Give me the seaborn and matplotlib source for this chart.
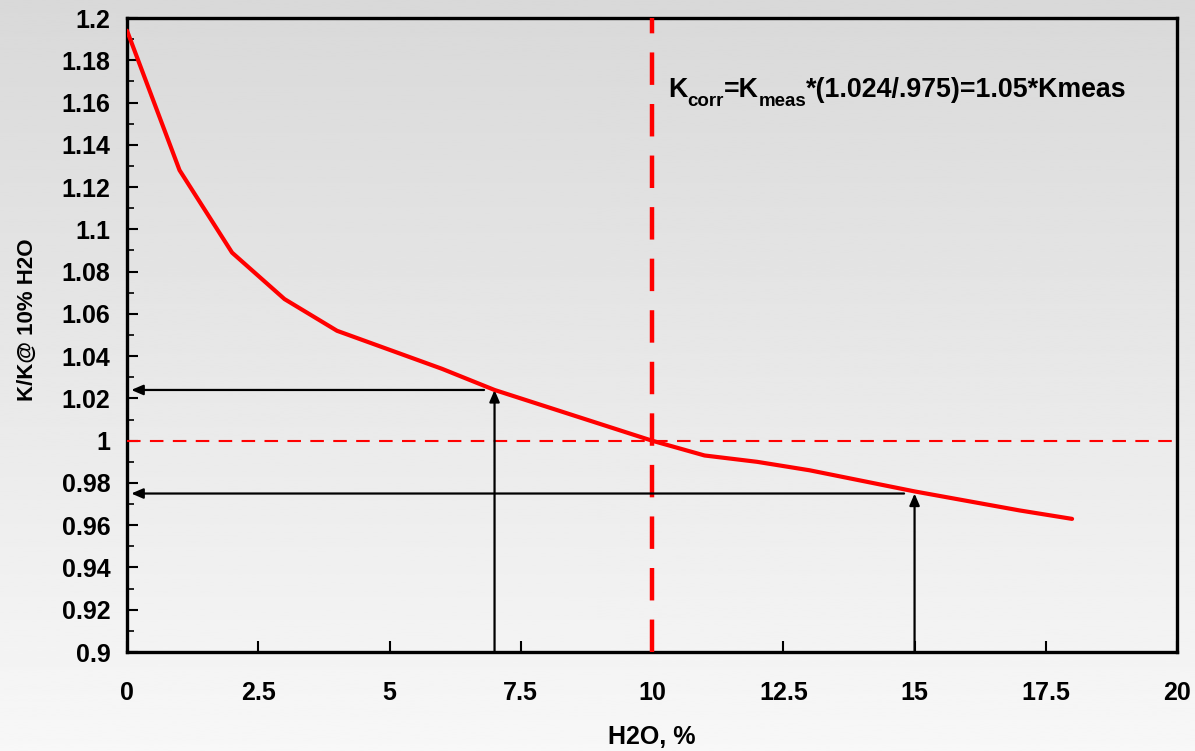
import numpy as np
import matplotlib
matplotlib.use("Agg")
import matplotlib.pyplot as plt
import seaborn as sns
import pandas as pd
from matplotlib.ticker import MultipleLocator, FuncFormatter

# data
h2o = [0, 1, 2, 3, 4, 5, 6, 7, 8, 9, 10, 11, 12, 13, 14, 15, 16, 17, 18]
k_ratio = [1.194, 1.128, 1.089, 1.067, 1.052, 1.043, 1.034, 1.024, 1.016, 1.008,
           1.000, 0.993, 0.990, 0.986, 0.981, 0.976, 0.9715, 0.967, 0.963]
ref_h2o = 10
ref_k = 1.0
arrow_x = [7, 15]
arrow_y = [1.024, 0.975]

sns.set_style("ticks")
plt.rcParams["font.family"] = ["Liberation Sans", "DejaVu Sans"]
plt.rcParams["font.weight"] = "bold"
for key in ["text.color", "axes.labelcolor", "xtick.color", "ytick.color"]:
    plt.rcParams[key] = "black"

fig = plt.figure(figsize=(11.95, 7.51), dpi=100)

# grey gradient background
bg = fig.add_axes([0, 0, 1, 1], zorder=0)
grad = np.linspace(0.85, 0.97, 256).reshape(-1, 1)
bg.imshow(grad, aspect="auto", cmap="gray", vmin=0, vmax=1, extent=[0, 1, 1, 0])
bg.axis("off")

ax = fig.add_axes([0.1063, 0.1318, 0.8787, 0.8442], zorder=1)
ax.set_facecolor("none")

df = pd.DataFrame({"h2o": h2o, "k": k_ratio})
sns.lineplot(data=df, x="h2o", y="k", color="#ff0000", lw=3, ax=ax, zorder=5)

ax.axhline(ref_k, color="#ff0000", lw=1.5, dashes=(6.5, 4.5), zorder=3)
ax.axvline(ref_h2o, color="#ff0000", lw=3.2, dashes=(7.3, 4.3), zorder=3)

# arrows: up from x axis to curve, then left to y axis
for xa, ya in zip(arrow_x, arrow_y):
    ax.annotate("", xy=(xa, ya), xytext=(xa, 0.9),
                arrowprops=dict(arrowstyle="-|>,head_length=0.7,head_width=0.3",
                                color="black", lw=1.6, shrinkA=0, shrinkB=0), zorder=4)
    ax.annotate("", xy=(0.08, ya), xytext=(xa - 0.2, ya),
                arrowprops=dict(arrowstyle="-|>,head_length=0.7,head_width=0.3",
                                color="black", lw=1.6, shrinkA=0, shrinkB=0), zorder=4)

ax.set_xlim(0, 20)
ax.set_ylim(0.9, 1.2)
ax.xaxis.set_major_locator(MultipleLocator(2.5))
ax.yaxis.set_major_locator(MultipleLocator(0.02))
ax.yaxis.set_minor_locator(MultipleLocator(0.01))
fmt = FuncFormatter(lambda v, p: "%g" % round(v, 4))
ax.xaxis.set_major_formatter(fmt)
ax.yaxis.set_major_formatter(fmt)
ax.tick_params(axis="both", which="major", direction="in", length=8, width=1.5,
               labelsize=18, color="black")
ax.tick_params(axis="y", which="minor", direction="in", length=5, width=1.2)
ax.tick_params(axis="x", which="major", pad=21)
ax.tick_params(axis="y", which="major", pad=12)
for s in ax.spines.values():
    s.set_linewidth(2.4)
    s.set_color("black")
    s.set_visible(True)

ax.set_xlabel("H2O, %", fontsize=18, fontweight="bold", va="center")
ax.set_ylabel("K/K@ 10% H2O", fontsize=16, fontweight="bold", va="center")
ax.xaxis.set_label_coords(0.5, -0.134)
ax.yaxis.set_label_coords(-0.095, 0.5236)

# formula text with subscripts
pieces = [("K", 0), ("corr", 1), ("=K", 0), ("meas", 1), ("*(1.024/.975)=1.05*Kmeas", 0)]
prev = ax.text(10.3, 1.1627, pieces[0][0], fontsize=19.3, fontweight="bold",
               ha="left", va="baseline", zorder=6)
for txt, sub in pieces[1:]:
    prev = ax.annotate(txt, xy=(1, 0), xycoords=prev, xytext=(0, -5 if sub else 0),
                       textcoords="offset points", ha="left", va="bottom",
                       fontsize=13.5 if sub else 19.3, fontweight="bold", zorder=6)
    if sub:
        # next piece must sit back on the baseline
        prev = ax.annotate("", xy=(1, 0), xycoords=prev, xytext=(0, 5),
                           textcoords="offset points", ha="left", va="bottom",
                           fontsize=13.5)

fig.savefig("out.png", dpi=100)
